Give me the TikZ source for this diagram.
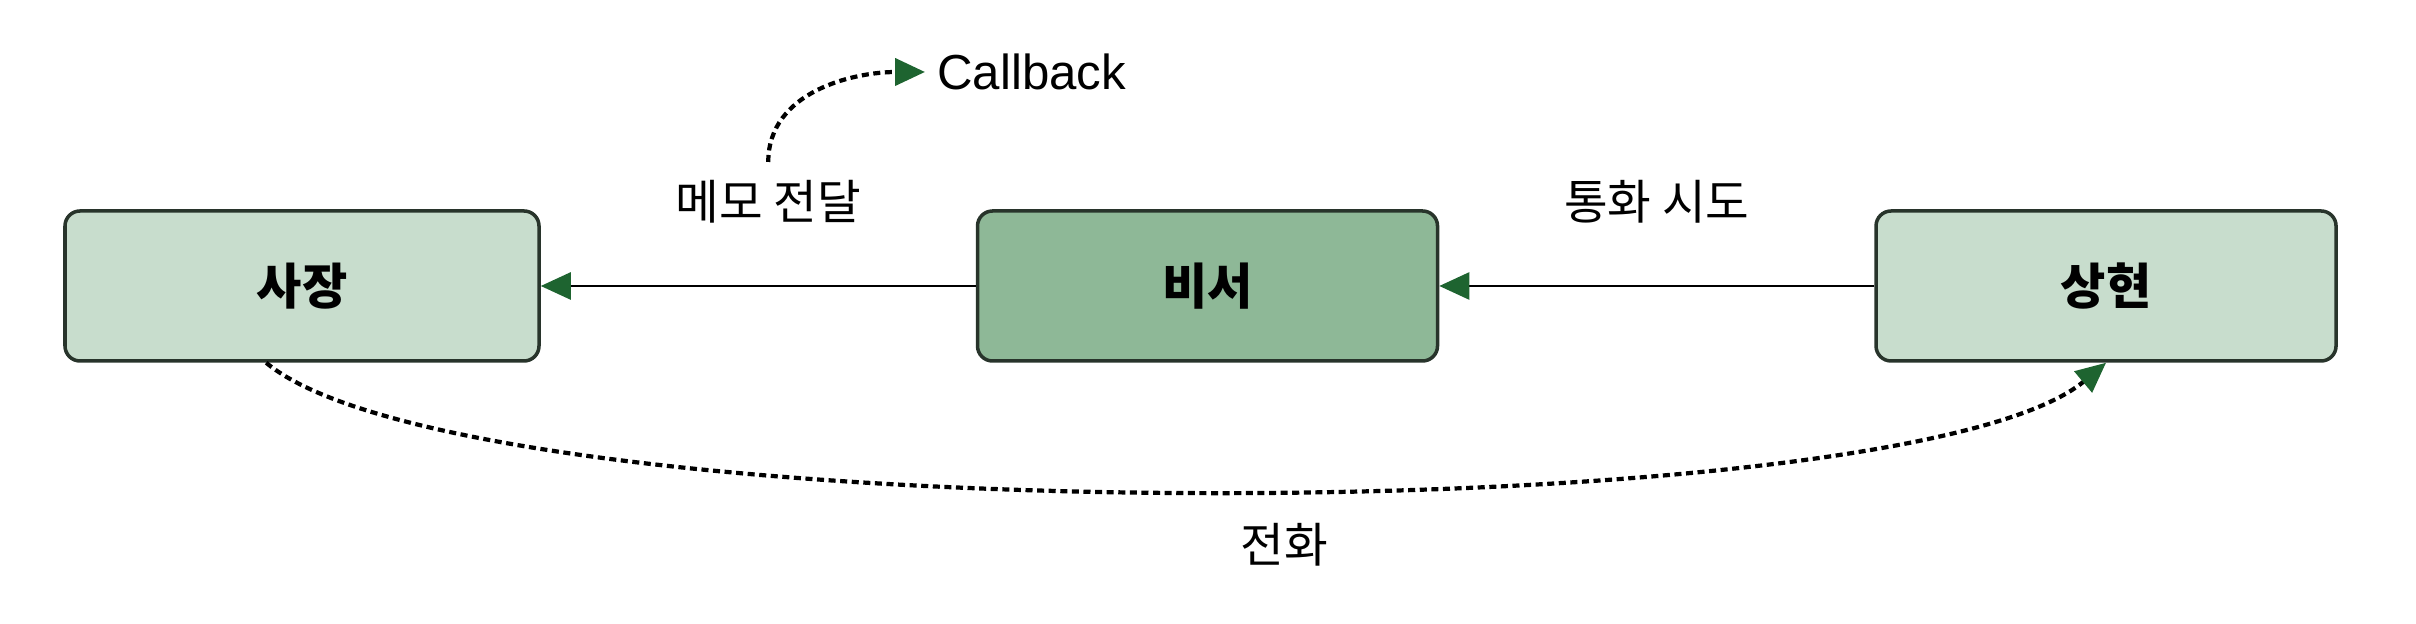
\documentclass[tikz,border=0pt]{standalone}
\usepackage{fontspec}
\setmainfont{Noto Sans CJK KR}
\newfontfamily\latinfont{Liberation Sans}
\usetikzlibrary{arrows.meta, positioning}

\definecolor{tipgreen}{RGB}{30,100,48}
\definecolor{lightbox}{RGB}{200,221,205}
\definecolor{darkbox}{RGB}{142,184,151}
\definecolor{boxline}{RGB}{40,52,43}

\begin{document}
\begin{tikzpicture}[
    node distance=12mm and 43.5mm,
    box/.style={rectangle, draw=boxline, line width=1pt, rounded corners=1.5mm, align=center, minimum width=4.6cm, minimum height=1.5cm, font=\fontsize{14}{16}\selectfont\bfseries},
    txt/.style={font=\fontsize{13.5}{16}\selectfont},
    arrow/.style={-{Triangle[length=3mm, width=2.7mm, color=tipgreen]}, line width=0.75pt},
    dasharrow/.style={-{Triangle[length=3mm, width=2.7mm, color=tipgreen]}, line width=1.2pt, dash pattern=on 2pt off 1.3pt}
  ]
  \useasboundingbox (0,0) rectangle (24.16,6.24);

  % ============ PEOPLE ============
  \node[box, fill=lightbox, minimum width=4.74cm] (sajang) at (3.02,3.38) {사장};
  \node[box, fill=darkbox, right=of sajang] (biseo) {비서};
  \node[box, fill=lightbox, right=of biseo] (sanghyeon) {상현};

  % ============ CALLS ============
  \draw[arrow] (sanghyeon) -- node[txt, above=5mm] (call) {통화 시도} (biseo);
  \draw[arrow] (biseo) -- node[txt, above=5mm, xshift=1mm] (memo) {메모 전달} (sajang);

  % Callback
  \node[txt, anchor=west, font=\latinfont\fontsize{14}{16}\selectfont] (callback) at (9.25,5.52) {Callback};
  \draw[dasharrow] ([yshift=0.5mm]memo.north) to[out=90, in=180] (callback.west);

  % Phone call back to Sanghyeon
  \draw[dasharrow] (sajang.-115) to[out=-40, in=-140, looseness=0.37]
    node[txt, pos=0.54, below=2mm] (phone) {전화} (sanghyeon.south);

\end{tikzpicture}
\end{document}
